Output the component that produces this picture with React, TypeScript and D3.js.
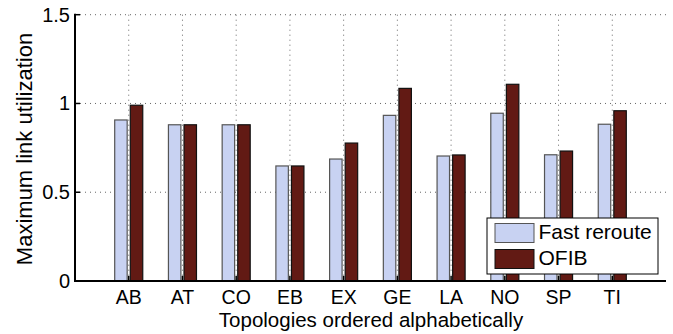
import React from "react";
import * as d3 from "d3";

const categories = ["AB", "AT", "CO", "EB", "EX", "GE", "LA", "NO", "SP", "TI"];
const fastReroute = [0.907, 0.88, 0.88, 0.648, 0.687, 0.933, 0.704, 0.945, 0.711, 0.883];
const ofib = [0.99, 0.88, 0.88, 0.648, 0.777, 1.085, 0.71, 1.108, 0.732, 0.959];
const yTickValues = [0, 0.5, 1, 1.5];
const yTickLabels = ["0", "0.5", "1", "1.5"];
const seriesNames = ["Fast reroute", "OFIB"];
const seriesColors = ["#c8d2f2", "#621a14"];
const seriesStroke = ["#555", "#111"];

const App = () => {
    const W = 673;
    const H = 334;
    const left = 75;
    const right = 666;
    const top = 14.7;
    const bottom = 281;
    const font = "'Liberation Sans', Arial, sans-serif";

    // MATLAB-style axes: x from 0 to 11, groups at 1..10
    const x = d3.scaleLinear().domain([0, categories.length + 1]).range([left, right]);
    const y = d3.scaleLinear().domain([0, 1.5]).range([bottom, top]);

    const unit = x(1) - x(0);
    const barW = 0.232 * unit;
    const offsets = [-0.145, 0.145];
    const series = [fastReroute, ofib];

    return (
        <svg width={W} height={H} viewBox={`0 0 ${W} ${H}`}
            style={{ position: "absolute", left: 0, top: 0, fontFamily: font }}>
            <rect width={W} height={H} fill="white" />

            {/* grid */}
            {yTickValues.slice(1).map((t, i) => (
                <line key={"gy" + i} x1={left} x2={right} y1={y(t)} y2={y(t)}
                    stroke="#666" strokeWidth={1} strokeDasharray="1,4" />
            ))}
            {categories.map((c, i) => (
                <line key={"gx" + i} x1={x(i + 1)} x2={x(i + 1)} y1={top} y2={bottom}
                    stroke="#666" strokeWidth={1} strokeDasharray="1,4" />
            ))}

            {/* bars */}
            {series.map((vals, s) => (
                <g key={"s" + s}>
                    {vals.map((v, i) => (
                        <rect key={i}
                            x={x(i + 1 + offsets[s]) - barW / 2}
                            y={y(v)}
                            width={barW}
                            height={y(0) - y(v)}
                            fill={seriesColors[s]}
                            stroke={seriesStroke[s]}
                            strokeWidth={1.2} />
                    ))}
                </g>
            ))}

            {/* axes */}
            <line x1={left} x2={left} y1={top - 1} y2={bottom + 1} stroke="black" strokeWidth={2} />
            <line x1={left - 1} x2={right} y1={bottom} y2={bottom} stroke="black" strokeWidth={2} />
            {yTickValues.map((t, i) => (
                <g key={"yt" + i}>
                    <line x1={left} x2={left + 5} y1={y(t)} y2={y(t)} stroke="black" strokeWidth={1.5} />
                    <text x={70} y={y(t) + 7} textAnchor="end" fontSize={20}>{yTickLabels[i]}</text>
                </g>
            ))}
            {categories.map((c, i) => (
                <g key={"xt" + i}>
                    <line x1={x(i + 1)} x2={x(i + 1)} y1={bottom} y2={bottom - 5} stroke="black" strokeWidth={1.5} />
                    <text x={x(i + 1)} y={304} textAnchor="middle" fontSize={19.5}>{c}</text>
                </g>
            ))}

            {/* labels */}
            <text x={371} y={327} textAnchor="middle" fontSize={20.5}>Topologies ordered alphabetically</text>
            <text transform={`translate(31.5, 149) rotate(-90)`} textAnchor="middle" fontSize={22}>
                Maximum link utilization
            </text>

            {/* legend */}
            <g>
                <rect x={487} y={218} width={171} height={56} fill="white" stroke="black" strokeWidth={1} />
                {seriesNames.map((n, s) => (
                    <g key={"l" + s}>
                        <rect x={495} y={223.5 + s * 26} width={39} height={19}
                            fill={seriesColors[s]} stroke={seriesStroke[s]} strokeWidth={1} />
                        <text x={538.5} y={238.5 + s * 26.5} fontSize={21}>{n}</text>
                    </g>
                ))}
            </g>
        </svg>
    );
};

export default App;
